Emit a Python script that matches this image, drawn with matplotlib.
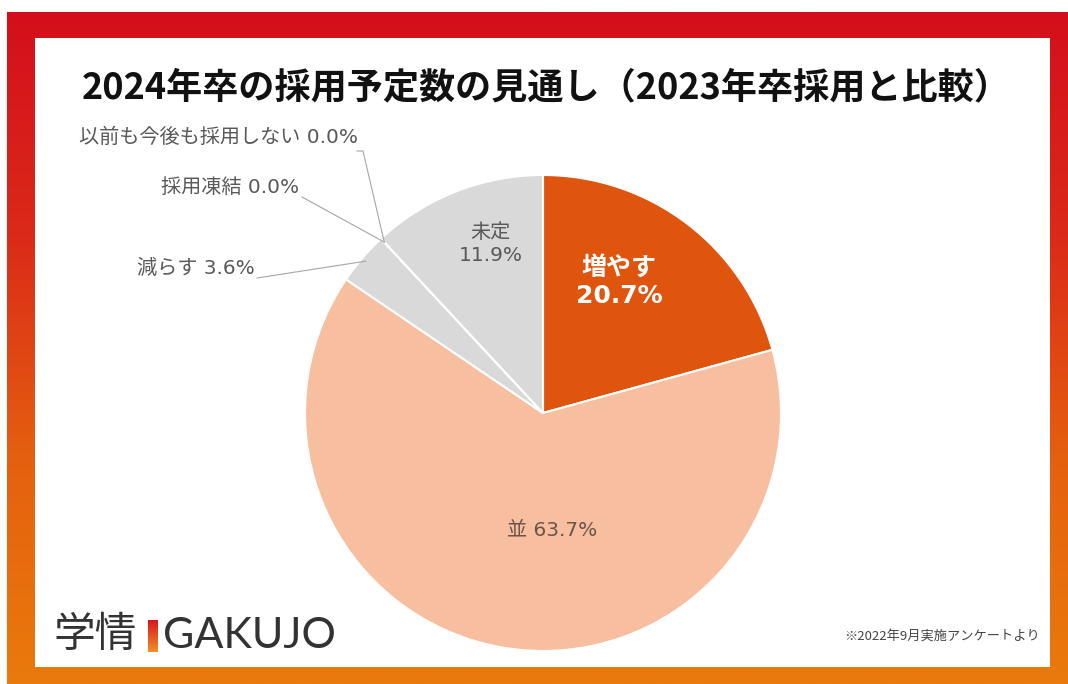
import numpy as np
import matplotlib
matplotlib.use("Agg")
import matplotlib.pyplot as plt
from matplotlib.patches import Rectangle
from matplotlib.colors import LinearSegmentedColormap

plt.rcParams['font.family'] = ['Noto Sans CJK JP', 'DejaVu Sans']
LBL = ['DejaVu Sans', 'Noto Sans CJK JP']

# ---- data ----
title = "2024年卒の採用予定数の見通し（2023年卒採用と比較）"
categories = ["増やす", "並", "減らす", "採用凍結", "以前も今後も採用しない", "未定"]
values = [20.7, 63.7, 3.6, 0.0, 0.0, 11.9]
colors = ["#E0550E", "#F7BEA0", "#D9D9D9", "#D9D9D9", "#D9D9D9", "#D9D9D9"]
footnote = "※2022年9月実施アンケートより"

W, H = 1068, 684
fig = plt.figure(figsize=(W / 100, H / 100), dpi=100)
fig.patch.set_facecolor("white")

# background gradient frame
bg = fig.add_axes([0, 0, 1, 1])
bg.set_xlim(0, W)
bg.set_ylim(H, 0)
bg.axis("off")
grad_cmap = LinearSegmentedColormap.from_list("frame", ["#D40F1C", "#DB2A19", "#E5600F", "#EA7A0C"])
grad = np.linspace(0, 1, 256).reshape(-1, 1)
bg.imshow(grad, cmap=grad_cmap, extent=[7, W, H, 12], aspect="auto", zorder=0)
bg.add_patch(Rectangle((35, 38), 1050 - 35, 667 - 38, facecolor="white", edgecolor="none", zorder=1))

# title
bg.text(546, 88, title, ha="center", va="center", fontsize=26, fontweight="bold",
        color="#111111", zorder=3)

# logo
bg.text(53, 636, "学情", ha="left", va="center", fontsize=30, color="#333333", zorder=3)
bar_grad = LinearSegmentedColormap.from_list("bar", ["#D8161C", "#F0902A"])
bg.imshow(grad, cmap=bar_grad, extent=[148, 158, 652, 620], aspect="auto", zorder=3)
bg.text(163, 636, "GAKUJO", ha="left", va="center", fontsize=31, color="#333333",
        family=["Lato", "DejaVu Sans"], zorder=3)

# footnote
bg.text(1040, 636, footnote, ha="right", va="center", fontsize=9.5, color="#444444", zorder=3)

# ---- pie ----
cx, cy, r = 543, 413, 238
ax = fig.add_axes([(cx - r) / W, (H - cy - r) / H, 2 * r / W, 2 * r / H])
ax.set_zorder(2)
wedges, _ = ax.pie(values, colors=colors, startangle=90, counterclock=False, radius=1,
                   wedgeprops=dict(edgecolor="white", linewidth=1.5))
ax.set_xlim(-1, 1)
ax.set_ylim(-1, 1)
ax.set_aspect("equal")
ax.axis("off")

def pct(v):
    return f"{v:.1f}%"

# inside labels
ax.text(0.32, 0.55, f"{categories[0]}\n{pct(values[0])}", ha="center", va="center",
        fontsize=18, fontweight="bold", color="white", linespacing=1.2, family=LBL)
ax.text(0.04, -0.49, f"{categories[1]} {pct(values[1])}", ha="center", va="center",
        fontsize=14.5, color="#6b5447", family=LBL)
ax.text(-0.22, 0.71, f"{categories[5]}\n{pct(values[5])}", ha="center", va="center",
        fontsize=14.5, color="#595959", linespacing=1.25, family=LBL)

# outside labels with leader lines
def edge_point(w, rr=1.0):
    ang = np.deg2rad((w.theta1 + w.theta2) / 2)
    return rr * np.cos(ang), rr * np.sin(ang)

def px(x, y):
    return (x - cx) / r, (cy - y) / r

outside = [
    (2, (255, 268), [(257, 278)]),
    (3, (299, 187), [(302, 197)]),
    (4, (358, 137), [(357, 151), (363, 151)]),
]
for idx, (tx, ty), path in outside:
    ex, ey = edge_point(wedges[idx], 0.98)
    dx, dy = px(tx, ty)
    ax.text(dx, dy, f"{categories[idx]} {pct(values[idx])}", ha="right", va="center",
            fontsize=14.5, color="#595959", clip_on=False, family=LBL)
    pts = [px(*p) for p in path] + [(ex, ey)]
    ax.plot([p[0] for p in pts], [p[1] for p in pts], color="#A6A6A6", lw=0.8,
            clip_on=False)

fig.savefig("out.png", dpi=100)
